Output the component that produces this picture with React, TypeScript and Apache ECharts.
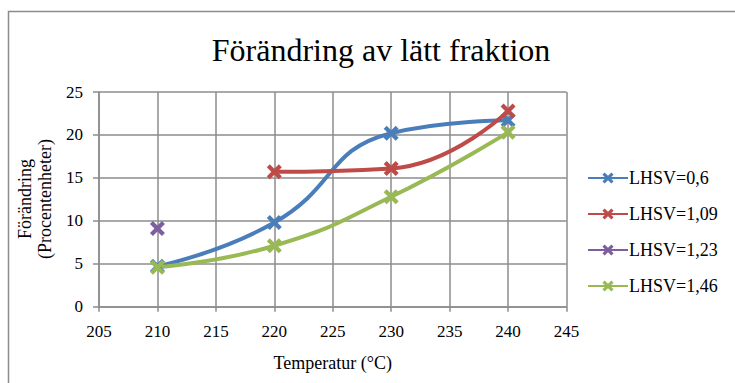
import React, { useEffect, useRef } from "react";
import * as echarts from "echarts";

// Temperatur (°C) at which the samples were taken
const temperatures = [210, 220, 230, 240];

// Förändring av lätt fraktion (procentenheter) per LHSV
const lhsv060 = [4.7, 9.8, 20.2, 21.7];
const lhsv109 = [null, 15.7, 16.1, 22.8];
const lhsv123 = [9.1, null, null, null];
const lhsv146 = [4.6, 7.1, 12.8, 20.3];

const seriesNames = ["LHSV=0,6", "LHSV=1,09", "LHSV=1,23", "LHSV=1,46"];
const seriesColors = ["#4a7ebb", "#be4b48", "#7d5fa0", "#98b954"];

const FONT = "Liberation Serif";

// filled "x" marker with thick arms
const CROSS =
  "path://M0,2L2,0L5,3L8,0L10,2L7,5L10,8L8,10L5,7L2,10L0,8L3,5Z";

export default function App() {
  const ref = useRef<HTMLDivElement>(null);

  useEffect(() => {
    if (!ref.current) return;
    const chart = echarts.init(ref.current, null, { renderer: "svg" });
    const data = [lhsv060, lhsv109, lhsv123, lhsv146];

    chart.setOption({
      animation: false,
      backgroundColor: "#ffffff",
      textStyle: { fontFamily: FONT, fontSize: 17, color: "#000" },
      title: {
        text: "Förändring av lätt fraktion",
        left: 376,
        top: 29,
        textAlign: "center",
        textStyle: { fontFamily: FONT, fontSize: 32, fontWeight: "normal", color: "#000" },
      },
      graphic: [
        {
          type: "rect",
          shape: { x: 8.5, y: 11.5, width: 800, height: 400 },
          style: { fill: "none", stroke: "#8c8c8c", lineWidth: 1.5 },
          silent: true,
        },
        {
          type: "text",
          x: 35,
          y: 199,
          rotation: Math.PI / 2,
          style: {
            text: "Förändring\n(Procentenheter)",
            fontFamily: FONT,
            fontSize: 18,
            fill: "#000",
            align: "center",
            verticalAlign: "middle",
            lineHeight: 20,
          },
        },
      ],
      legend: {
        orient: "vertical",
        left: 582,
        top: 164,
        itemWidth: 40,
        itemHeight: 14,
        itemGap: 18,
        textStyle: { fontFamily: FONT, fontSize: 18, color: "#000", padding: [0, 0, 0, -4] },
        data: seriesNames,
      },
      grid: { left: 99, right: 168.5, top: 92, bottom: 76.3 },
      xAxis: {
        type: "value",
        min: 205,
        max: 245,
        interval: 5,
        name: "Temperatur (°C)",
        nameLocation: "middle",
        nameGap: 47,
        nameTextStyle: { fontFamily: FONT, fontSize: 18, color: "#000" },
        axisLine: { lineStyle: { color: "#8c8c8c", width: 1.5 } },
        axisTick: { show: true, length: 5, lineStyle: { color: "#8c8c8c", width: 1.5 } },
        axisLabel: { fontFamily: FONT, fontSize: 17, color: "#000", margin: 16 },
        splitLine: { lineStyle: { color: "#8c8c8c", width: 1.5 } },
      },
      yAxis: {
        type: "value",
        min: 0,
        max: 25,
        interval: 5,
        axisLine: { show: true, lineStyle: { color: "#8c8c8c", width: 1.5 } },
        axisTick: { show: true, length: 6, lineStyle: { color: "#8c8c8c", width: 1.5 } },
        axisLabel: { fontFamily: FONT, fontSize: 17, color: "#000", margin: 16 },
        splitLine: { lineStyle: { color: "#8c8c8c", width: 1.5 } },
      },
      series: seriesNames.map((name, i) => ({
        name,
        type: "line",
        smooth: 0.5,
        connectNulls: true,
        symbol: CROSS,
        symbolSize: 15,
        showSymbol: true,
        color: seriesColors[i],
        lineStyle: { width: 4, color: seriesColors[i] },
        itemStyle: { color: seriesColors[i] },
        data: temperatures
          .map((t, j) => [t, data[i][j]])
          .filter((p) => p[1] !== null),
      })),
    });

    return () => chart.dispose();
  }, []);

  return (
    <div
      ref={ref}
      style={{ position: "fixed", left: 0, top: 0, width: 735, height: 383 }}
    />
  );
}
